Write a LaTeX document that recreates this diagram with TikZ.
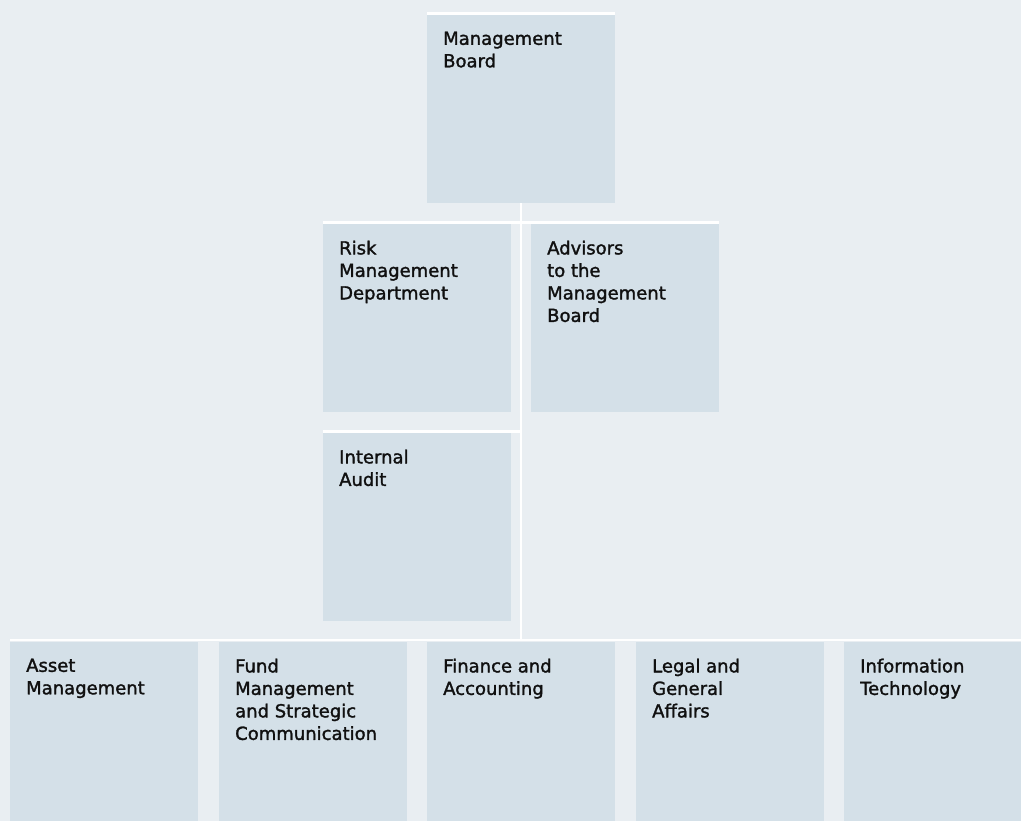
\documentclass[tikz,border=0pt]{standalone}
\usepackage{fontspec}
\newfontface\unitfont[FakeBold=1.6]{DejaVu Sans}
\definecolor{pagefill}{HTML}{E9EEF2}
\definecolor{unitfill}{HTML}{D4E0E8}
\definecolor{unitink}{HTML}{101010}
\newcommand{\unittext}[3]{\parbox[t][#2][t]{#1}{\raggedright\leftskip=16bp\vspace*{16.5bp}#3}}
\tikzset{
  unit/.style={fill=unitfill,anchor=north west,inner sep=0pt,text=unitink,font=\unitfont\fontsize{18bp}{22.5bp}\selectfont},
  link/.style={draw=white,line width=2.5bp},
}
\begin{document}
\begin{tikzpicture}[line join=bevel,]
%%
\fill [pagefill] (0bp,0bp) rectangle (1021bp,-821bp);
\useasboundingbox (0bp,0bp) rectangle (1021bp,-821bp);
\node (board) at (427bp,-15bp) [unit] {\unittext{188bp}{188bp}{Management\\Board}};
  \node (risk) at (323bp,-224bp) [unit] {\unittext{188bp}{188bp}{Risk\\Management\\Department}};
  \node (advisors) at (531bp,-224bp) [unit] {\unittext{188bp}{188bp}{Advisors\\to the\\Management\\Board}};
  \node (audit) at (323bp,-433bp) [unit] {\unittext{188bp}{188bp}{Internal\\Audit}};
  \node (asset) at (10bp,-642bp) [unit] {\unittext{188bp}{179bp}{Asset\\Management}};
  \node (fund) at (219bp,-642bp) [unit] {\unittext{188bp}{179bp}{Fund\\Management\\and Strategic\\Communication}};
  \node (finance) at (427bp,-642bp) [unit] {\unittext{188bp}{179bp}{Finance and\\Accounting}};
  \node (legal) at (636bp,-642bp) [unit] {\unittext{188bp}{179bp}{Legal and\\General\\Affairs}};
  \node (it) at (844bp,-642bp) [unit] {\unittext{177bp}{179bp}{Information\\Technology}};
  \draw [link] ([yshift=1.5bp]board.north west) -- ([yshift=1.5bp]board.north east);
  \draw [link] (board.south) -- ([yshift=2bp]board.south |- finance.north);
  \draw [link] ([yshift=1.5bp]risk.north west) -- ([yshift=1.5bp]advisors.north east);
  \draw [link] ([yshift=1.5bp]audit.north west) -- ([yshift=1.5bp]audit.north -| board.south);
  \draw [link] ([yshift=2bp]asset.north west) -- ([yshift=2bp]it.north east);
%
\end{tikzpicture}
\end{document}
